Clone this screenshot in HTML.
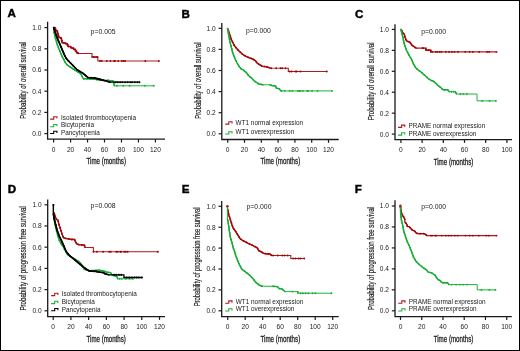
<!DOCTYPE html><html><head><meta charset="utf-8"><style>html,body{margin:0;padding:0;background:#fff}svg{display:block;filter:blur(0.3px)}text{font-family:"Liberation Sans",sans-serif}</style></head><body>
<svg width="520" height="351" viewBox="0 0 520 351">
<rect x="0" y="0" width="520" height="351" fill="#fff"/>
<path d="M47.6,21.7 V139.2 H165" fill="none" stroke="#1a1a1a" stroke-width="1.3"/>
<line x1="44.4" y1="133.6" x2="47.6" y2="133.6" stroke="#1a1a1a" stroke-width="1.2"/>
<text x="41.5" y="136" font-size="6.6" text-anchor="end" fill="#1a1a1a">0.0</text>
<line x1="44.4" y1="112.4" x2="47.6" y2="112.4" stroke="#1a1a1a" stroke-width="1.2"/>
<text x="41.5" y="114.8" font-size="6.6" text-anchor="end" fill="#1a1a1a">0.2</text>
<line x1="44.4" y1="91.2" x2="47.6" y2="91.2" stroke="#1a1a1a" stroke-width="1.2"/>
<text x="41.5" y="93.6" font-size="6.6" text-anchor="end" fill="#1a1a1a">0.4</text>
<line x1="44.4" y1="70" x2="47.6" y2="70" stroke="#1a1a1a" stroke-width="1.2"/>
<text x="41.5" y="72.4" font-size="6.6" text-anchor="end" fill="#1a1a1a">0.6</text>
<line x1="44.4" y1="48.8" x2="47.6" y2="48.8" stroke="#1a1a1a" stroke-width="1.2"/>
<text x="41.5" y="51.2" font-size="6.6" text-anchor="end" fill="#1a1a1a">0.8</text>
<line x1="44.4" y1="27.6" x2="47.6" y2="27.6" stroke="#1a1a1a" stroke-width="1.2"/>
<text x="41.5" y="30" font-size="6.6" text-anchor="end" fill="#1a1a1a">1.0</text>
<line x1="53.6" y1="139.2" x2="53.6" y2="142.5" stroke="#1a1a1a" stroke-width="1.2"/>
<text x="53.6" y="151.7" font-size="6.6" text-anchor="middle" fill="#1a1a1a">0</text>
<line x1="70.57" y1="139.2" x2="70.57" y2="142.5" stroke="#1a1a1a" stroke-width="1.2"/>
<text x="70.57" y="151.7" font-size="6.6" text-anchor="middle" fill="#1a1a1a">20</text>
<line x1="87.54" y1="139.2" x2="87.54" y2="142.5" stroke="#1a1a1a" stroke-width="1.2"/>
<text x="87.54" y="151.7" font-size="6.6" text-anchor="middle" fill="#1a1a1a">40</text>
<line x1="104.51" y1="139.2" x2="104.51" y2="142.5" stroke="#1a1a1a" stroke-width="1.2"/>
<text x="104.51" y="151.7" font-size="6.6" text-anchor="middle" fill="#1a1a1a">60</text>
<line x1="121.48" y1="139.2" x2="121.48" y2="142.5" stroke="#1a1a1a" stroke-width="1.2"/>
<text x="121.48" y="151.7" font-size="6.6" text-anchor="middle" fill="#1a1a1a">80</text>
<line x1="138.45" y1="139.2" x2="138.45" y2="142.5" stroke="#1a1a1a" stroke-width="1.2"/>
<text x="138.45" y="151.7" font-size="6.6" text-anchor="middle" fill="#1a1a1a">100</text>
<line x1="155.42" y1="139.2" x2="155.42" y2="142.5" stroke="#1a1a1a" stroke-width="1.2"/>
<text x="155.42" y="151.7" font-size="6.6" text-anchor="middle" fill="#1a1a1a">120</text>
<text x="7.4" y="17.3" font-size="11.6" font-weight="bold" fill="#000" stroke="#000" stroke-width="0.4">A</text>
<text x="86.5" y="163.9" font-size="8.6" fill="#222" stroke="#222" stroke-width="0.3" textLength="39.5" lengthAdjust="spacingAndGlyphs">Time (months)</text>
<text transform="translate(26.1,80.4) rotate(-90)" x="0" y="0" font-size="8.4" text-anchor="middle" fill="#222" stroke="#222" stroke-width="0.18" textLength="76.6" lengthAdjust="spacingAndGlyphs">Probability of overall survival</text>
<text x="90.6" y="33.6" font-size="6.5" fill="#222" textLength="25" lengthAdjust="spacingAndGlyphs">p=0.005</text>
<path d="M50.1,119.1 H53.7 V116.8 H56.9 V118.6" fill="none" stroke="#B01A1E" stroke-width="1.1"/>
<text x="61" y="119.5" font-size="6.4" fill="#1a1a1a">Isolated thrombocytopenia</text>
<path d="M50.1,126.8 H53.7 V124.5 H56.9 V126.3" fill="none" stroke="#1EB23B" stroke-width="1.1"/>
<text x="61" y="127.2" font-size="6.4" fill="#1a1a1a">Bicytopenia</text>
<path d="M50.1,133.5 H53.7 V131.2 H56.9 V133" fill="none" stroke="#000000" stroke-width="1.1"/>
<text x="61" y="134.9" font-size="6.4" fill="#1a1a1a">Pancytopenia</text>
<path d="M53.5,27.7 L54.3,33.4 L55.4,38 L56.4,41.4 L57.1,44 L58.8,48.6 L60.6,53.1 L62.8,57.7 L65.1,62.2 L67.4,65.1 L70.8,67.4 L74.8,70.2 L77.1,71.4 L80.5,73.6 L82.2,76.5 L83.4,78.8 L88.5,78.8 L95,79.3 L101,80.2 L107.3,80.2 L110,80.6 L113.8,81.2 L114.2,85.8 L153.8,85.8" fill="none" stroke="#1EB23B" stroke-width="1.0" stroke-linejoin="miter" stroke-miterlimit="2"/>
<path d="M53.5,27.7 L54.3,33.4 L55.4,38 L56.4,41.4 L57.1,44 L58.8,48.6 L60.6,53.1 L62.8,57.7 L65.1,62.2 L67.4,65.1 L70.8,67.4 L74.8,70.2 L77.1,71.4 L80.5,73.6 L82.2,76.5 L83.4,78.8 L88.5,78.8 L95,79.3 L101,80.2" fill="none" stroke="#19AC36" stroke-width="1.45" stroke-linejoin="round" stroke-linecap="round"/>
<path d="M107.3,80.2 L110,80.6 L113.8,81.2 L114.2,85.8" fill="none" stroke="#19AC36" stroke-width="1.45" stroke-linejoin="round" stroke-linecap="round"/>
<circle cx="53.72" cy="29.28" r="0.85" fill="#17AE36"/>
<circle cx="54.17" cy="32.45" r="0.85" fill="#17AE36"/>
<circle cx="54.82" cy="35.58" r="0.85" fill="#17AE36"/>
<circle cx="55.6" cy="38.69" r="0.85" fill="#17AE36"/>
<circle cx="56.5" cy="41.76" r="0.85" fill="#17AE36"/>
<circle cx="57.4" cy="44.82" r="0.85" fill="#17AE36"/>
<circle cx="58.51" cy="47.82" r="0.85" fill="#17AE36"/>
<circle cx="59.68" cy="50.8" r="0.85" fill="#17AE36"/>
<circle cx="60.91" cy="53.76" r="0.85" fill="#17AE36"/>
<circle cx="62.29" cy="56.64" r="0.85" fill="#17AE36"/>
<circle cx="63.72" cy="59.51" r="0.85" fill="#17AE36"/>
<circle cx="65.21" cy="62.34" r="0.85" fill="#17AE36"/>
<circle cx="67.2" cy="64.84" r="0.85" fill="#17AE36"/>
<circle cx="69.78" cy="66.71" r="0.85" fill="#17AE36"/>
<circle cx="72.41" cy="68.53" r="0.85" fill="#17AE36"/>
<circle cx="75.05" cy="70.33" r="0.85" fill="#17AE36"/>
<circle cx="77.85" cy="71.88" r="0.85" fill="#17AE36"/>
<circle cx="80.52" cy="73.64" r="0.85" fill="#17AE36"/>
<circle cx="82.14" cy="76.4" r="0.85" fill="#17AE36"/>
<circle cx="83.89" cy="78.8" r="0.85" fill="#17AE36"/>
<circle cx="87.09" cy="78.8" r="0.85" fill="#17AE36"/>
<circle cx="90.28" cy="78.94" r="0.85" fill="#17AE36"/>
<circle cx="93.47" cy="79.18" r="0.85" fill="#17AE36"/>
<circle cx="96.65" cy="79.55" r="0.85" fill="#17AE36"/>
<circle cx="99.81" cy="80.02" r="0.85" fill="#17AE36"/>
<circle cx="108.88" cy="80.43" r="0.85" fill="#17AE36"/>
<circle cx="112.05" cy="80.92" r="0.85" fill="#17AE36"/>
<circle cx="113.92" cy="82.62" r="0.85" fill="#17AE36"/>
<path d="M54.2,27.5 L55,27.5 L55,28.5 L55.6,28.5 L55.6,30.5 L57,30.5 L57,31.2 L57.5,31.2 L57.5,33.5 L58.2,33.5 L58.2,35.7 L58.7,35.7 L58.7,37.5 L60.5,37.5 L60.5,38.2 L61.5,38.2 L61.5,40.3 L62,40.3 L62,42.6 L64,42.6 L64,43.2 L65.7,43.2 L65.7,43.8 L67.3,43.8 L67.3,44.8 L68,44.8 L68,46.5 L70.8,46.5 L70.8,47.6 L72,47.6 L72,48.2 L73.6,48.2 L73.6,49.4 L75.4,49.4 L75.4,51 L76.5,51 L76.5,52.8 L78,52.8 L78,53.5 L92,53.5 L92,57 L97.8,57 L97.8,61 L159,61" fill="none" stroke="#B01A1E" stroke-width="1.1" stroke-linejoin="miter" stroke-miterlimit="2"/>
<path d="M54.2,27.5 L55,27.5 L55,28.5 L55.6,28.5 L55.6,30.5 L57,30.5 L57,31.2 L57.5,31.2 L57.5,33.5 L58.2,33.5 L58.2,35.7 L58.7,35.7 L58.7,37.5 L60.5,37.5 L60.5,38.2 L61.5,38.2 L61.5,40.3 L62,40.3 L62,42.6 L64,42.6 L64,43.2 L65.7,43.2 L65.7,43.8 L67.3,43.8 L67.3,44.8 L68,44.8 L68,46.5 L70.8,46.5 L70.8,47.6 L72,47.6 L72,48.2 L73.6,48.2 L73.6,49.4 L75.4,49.4 L75.4,51 L76.5,51 L76.5,52.8 L78,52.8 L78,53.5" fill="none" stroke="#A80E12" stroke-width="1.45" stroke-linejoin="round" stroke-linecap="round"/>
<path d="M92,57 L97.8,57" fill="none" stroke="#A80E12" stroke-width="1.45" stroke-linejoin="round" stroke-linecap="round"/>
<circle cx="55" cy="28.3" r="0.85" fill="#A00000"/>
<circle cx="56" cy="30.5" r="0.85" fill="#A00000"/>
<circle cx="57.5" cy="32.2" r="0.85" fill="#A00000"/>
<circle cx="58.2" cy="34.7" r="0.85" fill="#A00000"/>
<circle cx="58.7" cy="37.4" r="0.85" fill="#A00000"/>
<circle cx="61.1" cy="38.2" r="0.85" fill="#A00000"/>
<circle cx="62" cy="40.5" r="0.85" fill="#A00000"/>
<circle cx="63.1" cy="42.6" r="0.85" fill="#A00000"/>
<circle cx="65.7" cy="43.2" r="0.85" fill="#A00000"/>
<circle cx="67.3" cy="44.8" r="0.85" fill="#A00000"/>
<circle cx="68.8" cy="46.5" r="0.85" fill="#A00000"/>
<circle cx="70.9" cy="47.6" r="0.85" fill="#A00000"/>
<circle cx="73.5" cy="48.2" r="0.85" fill="#A00000"/>
<circle cx="75.4" cy="49.5" r="0.85" fill="#A00000"/>
<circle cx="76.5" cy="51.6" r="0.85" fill="#A00000"/>
<circle cx="78" cy="53.3" r="0.85" fill="#A00000"/>
<circle cx="93.6" cy="57" r="0.85" fill="#A00000"/>
<circle cx="96.8" cy="57" r="0.85" fill="#A00000"/>
<path d="M53.7,27.5 L54.8,31.1 L56,34.5 L57.7,39.1 L59.4,43.1 L61.1,47.1 L62.8,51.1 L64.5,55.2 L66.5,58.8 L69.5,62 L72,64.5 L77.1,69.7 L83.4,73.6 L87.9,77.5 L94.2,77.9 L101,79.6 L106.2,81 L108,81.6 L109.9,82.2 L139.8,82.2" fill="none" stroke="#000000" stroke-width="1.3" stroke-linejoin="miter" stroke-miterlimit="2"/>
<path d="M53.7,27.5 L54.8,31.1 L56,34.5 L57.7,39.1 L59.4,43.1 L61.1,47.1 L62.8,51.1 L64.5,55.2 L66.5,58.8 L69.5,62 L72,64.5 L77.1,69.7 L83.4,73.6 L87.9,77.5 L94.2,77.9 L101,79.6 L106.2,81 L108,81.6 L109.9,82.2" fill="none" stroke="#000000" stroke-width="1.6" stroke-linejoin="round" stroke-linecap="round"/>
<circle cx="54.17" cy="29.03" r="0.85" fill="#000"/>
<circle cx="55.14" cy="32.08" r="0.85" fill="#000"/>
<circle cx="56.22" cy="35.09" r="0.85" fill="#000"/>
<circle cx="57.33" cy="38.09" r="0.85" fill="#000"/>
<circle cx="58.53" cy="41.06" r="0.85" fill="#000"/>
<circle cx="59.78" cy="44" r="0.85" fill="#000"/>
<circle cx="61.03" cy="46.95" r="0.85" fill="#000"/>
<circle cx="62.29" cy="49.89" r="0.85" fill="#000"/>
<circle cx="63.52" cy="52.84" r="0.85" fill="#000"/>
<circle cx="64.82" cy="55.77" r="0.85" fill="#000"/>
<circle cx="66.37" cy="58.56" r="0.85" fill="#000"/>
<circle cx="68.5" cy="60.94" r="0.85" fill="#000"/>
<circle cx="70.73" cy="63.23" r="0.85" fill="#000"/>
<circle cx="72.99" cy="65.51" r="0.85" fill="#000"/>
<circle cx="75.23" cy="67.79" r="0.85" fill="#000"/>
<circle cx="77.55" cy="69.98" r="0.85" fill="#000"/>
<circle cx="80.27" cy="71.66" r="0.85" fill="#000"/>
<circle cx="82.99" cy="73.35" r="0.85" fill="#000"/>
<circle cx="85.45" cy="75.38" r="0.85" fill="#000"/>
<circle cx="87.87" cy="77.47" r="0.85" fill="#000"/>
<circle cx="91.05" cy="77.7" r="0.85" fill="#000"/>
<circle cx="94.25" cy="77.91" r="0.85" fill="#000"/>
<circle cx="97.35" cy="78.69" r="0.85" fill="#000"/>
<circle cx="100.46" cy="79.46" r="0.85" fill="#000"/>
<circle cx="103.55" cy="80.29" r="0.85" fill="#000"/>
<circle cx="106.63" cy="81.14" r="0.85" fill="#000"/>
<circle cx="109.67" cy="82.13" r="0.85" fill="#000"/>
<circle cx="99.9" cy="61" r="0.95" fill="#A00000"/>
<circle cx="101.6" cy="61" r="0.95" fill="#A00000"/>
<circle cx="106.8" cy="61" r="0.95" fill="#A00000"/>
<circle cx="110.4" cy="61" r="0.95" fill="#A00000"/>
<circle cx="114" cy="61" r="0.95" fill="#A00000"/>
<circle cx="115" cy="61" r="0.95" fill="#A00000"/>
<circle cx="118.2" cy="61" r="0.95" fill="#A00000"/>
<circle cx="121.8" cy="61" r="0.95" fill="#A00000"/>
<circle cx="123.5" cy="61" r="0.95" fill="#A00000"/>
<circle cx="125.1" cy="61" r="0.95" fill="#A00000"/>
<circle cx="145.3" cy="61" r="0.95" fill="#A00000"/>
<circle cx="158.9" cy="61" r="0.95" fill="#A00000"/>
<circle cx="116.8" cy="85.8" r="0.95" fill="#17AE36"/>
<circle cx="123.3" cy="85.8" r="0.95" fill="#17AE36"/>
<circle cx="129.7" cy="85.8" r="0.95" fill="#17AE36"/>
<circle cx="144.7" cy="85.8" r="0.95" fill="#17AE36"/>
<circle cx="153.8" cy="85.8" r="0.95" fill="#17AE36"/>
<circle cx="115.8" cy="82.2" r="0.95" fill="#000"/>
<circle cx="117.8" cy="82.2" r="0.95" fill="#000"/>
<circle cx="120.1" cy="82.2" r="0.95" fill="#000"/>
<circle cx="122.3" cy="82.2" r="0.95" fill="#000"/>
<circle cx="125" cy="82.2" r="0.95" fill="#000"/>
<circle cx="127.6" cy="82.2" r="0.95" fill="#000"/>
<circle cx="130.2" cy="82.2" r="0.95" fill="#000"/>
<circle cx="132.1" cy="82.2" r="0.95" fill="#000"/>
<circle cx="134.8" cy="82.2" r="0.95" fill="#000"/>
<circle cx="137.4" cy="82.2" r="0.95" fill="#000"/>
<circle cx="139.5" cy="82.2" r="0.95" fill="#000"/>
<path d="M221.8,23 V139.5 H338.7" fill="none" stroke="#1a1a1a" stroke-width="1.3"/>
<line x1="218.6" y1="133.8" x2="221.8" y2="133.8" stroke="#1a1a1a" stroke-width="1.2"/>
<text x="215.7" y="136.2" font-size="6.6" text-anchor="end" fill="#1a1a1a">0.0</text>
<line x1="218.6" y1="112.7" x2="221.8" y2="112.7" stroke="#1a1a1a" stroke-width="1.2"/>
<text x="215.7" y="115.1" font-size="6.6" text-anchor="end" fill="#1a1a1a">0.2</text>
<line x1="218.6" y1="91.6" x2="221.8" y2="91.6" stroke="#1a1a1a" stroke-width="1.2"/>
<text x="215.7" y="94" font-size="6.6" text-anchor="end" fill="#1a1a1a">0.4</text>
<line x1="218.6" y1="70.5" x2="221.8" y2="70.5" stroke="#1a1a1a" stroke-width="1.2"/>
<text x="215.7" y="72.9" font-size="6.6" text-anchor="end" fill="#1a1a1a">0.6</text>
<line x1="218.6" y1="49.4" x2="221.8" y2="49.4" stroke="#1a1a1a" stroke-width="1.2"/>
<text x="215.7" y="51.8" font-size="6.6" text-anchor="end" fill="#1a1a1a">0.8</text>
<line x1="218.6" y1="28.3" x2="221.8" y2="28.3" stroke="#1a1a1a" stroke-width="1.2"/>
<text x="215.7" y="30.7" font-size="6.6" text-anchor="end" fill="#1a1a1a">1.0</text>
<line x1="227.7" y1="139.5" x2="227.7" y2="142.8" stroke="#1a1a1a" stroke-width="1.2"/>
<text x="227.7" y="152" font-size="6.6" text-anchor="middle" fill="#1a1a1a">0</text>
<line x1="244.5" y1="139.5" x2="244.5" y2="142.8" stroke="#1a1a1a" stroke-width="1.2"/>
<text x="244.5" y="152" font-size="6.6" text-anchor="middle" fill="#1a1a1a">20</text>
<line x1="261.3" y1="139.5" x2="261.3" y2="142.8" stroke="#1a1a1a" stroke-width="1.2"/>
<text x="261.3" y="152" font-size="6.6" text-anchor="middle" fill="#1a1a1a">40</text>
<line x1="278.1" y1="139.5" x2="278.1" y2="142.8" stroke="#1a1a1a" stroke-width="1.2"/>
<text x="278.1" y="152" font-size="6.6" text-anchor="middle" fill="#1a1a1a">60</text>
<line x1="294.9" y1="139.5" x2="294.9" y2="142.8" stroke="#1a1a1a" stroke-width="1.2"/>
<text x="294.9" y="152" font-size="6.6" text-anchor="middle" fill="#1a1a1a">80</text>
<line x1="311.7" y1="139.5" x2="311.7" y2="142.8" stroke="#1a1a1a" stroke-width="1.2"/>
<text x="311.7" y="152" font-size="6.6" text-anchor="middle" fill="#1a1a1a">100</text>
<line x1="328.5" y1="139.5" x2="328.5" y2="142.8" stroke="#1a1a1a" stroke-width="1.2"/>
<text x="328.5" y="152" font-size="6.6" text-anchor="middle" fill="#1a1a1a">120</text>
<text x="181.4" y="18.2" font-size="11.6" font-weight="bold" fill="#000" stroke="#000" stroke-width="0.4">B</text>
<text x="260.5" y="164.4" font-size="8.6" fill="#222" stroke="#222" stroke-width="0.3" textLength="39.7" lengthAdjust="spacingAndGlyphs">Time (months)</text>
<text transform="translate(200.5,80.6) rotate(-90)" x="0" y="0" font-size="8.4" text-anchor="middle" fill="#222" stroke="#222" stroke-width="0.18" textLength="76.2" lengthAdjust="spacingAndGlyphs">Probability of overall survival</text>
<text x="245.9" y="33.2" font-size="6.5" fill="#222" textLength="25" lengthAdjust="spacingAndGlyphs">p=0.000</text>
<path d="M225.2,124.1 H228.8 V121.8 H232 V123.6" fill="none" stroke="#B01A1E" stroke-width="1.1"/>
<text x="235.6" y="124.5" font-size="6.4" fill="#1a1a1a">WT1 normal expression</text>
<path d="M225.2,134 H228.8 V131.7 H232 V133.5" fill="none" stroke="#1EB23B" stroke-width="1.1"/>
<text x="235.6" y="134.4" font-size="6.4" fill="#1a1a1a">WT1 overexpression</text>
<path d="M227.5,28.6 L228.2,29.5 L229,32.7 L230.4,36.4 L231.2,39.3 L232.7,42.3 L234.1,45.3 L236.4,48.2 L239.3,51.2 L242.3,54.1 L246,56.4 L249.7,57.9 L253.4,59.3 L255.6,60.8 L257.1,63 L259.3,64.5 L262.2,66.2 L266.4,66.8 L269.9,68 L288.3,68.2 L288.3,71.5 L327,71.5" fill="none" stroke="#B01A1E" stroke-width="1.1" stroke-linejoin="miter" stroke-miterlimit="2"/>
<path d="M227.5,28.6 L228.2,29.5 L229,32.7 L230.4,36.4 L231.2,39.3 L232.7,42.3 L234.1,45.3 L236.4,48.2 L239.3,51.2 L242.3,54.1 L246,56.4 L249.7,57.9 L253.4,59.3 L255.6,60.8 L257.1,63 L259.3,64.5 L262.2,66.2 L266.4,66.8 L269.9,68" fill="none" stroke="#A80E12" stroke-width="1.45" stroke-linejoin="round" stroke-linecap="round"/>
<circle cx="228.31" cy="29.95" r="0.85" fill="#A00000"/>
<circle cx="229.13" cy="33.04" r="0.85" fill="#A00000"/>
<circle cx="230.26" cy="36.03" r="0.85" fill="#A00000"/>
<circle cx="231.15" cy="39.1" r="0.85" fill="#A00000"/>
<circle cx="232.54" cy="41.98" r="0.85" fill="#A00000"/>
<circle cx="233.9" cy="44.88" r="0.85" fill="#A00000"/>
<circle cx="235.8" cy="47.44" r="0.85" fill="#A00000"/>
<circle cx="237.95" cy="49.8" r="0.85" fill="#A00000"/>
<circle cx="240.2" cy="52.07" r="0.85" fill="#A00000"/>
<circle cx="242.54" cy="54.25" r="0.85" fill="#A00000"/>
<circle cx="245.26" cy="55.94" r="0.85" fill="#A00000"/>
<circle cx="248.16" cy="57.28" r="0.85" fill="#A00000"/>
<circle cx="251.14" cy="58.44" r="0.85" fill="#A00000"/>
<circle cx="254.05" cy="59.74" r="0.85" fill="#A00000"/>
<circle cx="256.34" cy="61.89" r="0.85" fill="#A00000"/>
<circle cx="258.63" cy="64.05" r="0.85" fill="#A00000"/>
<circle cx="261.36" cy="65.71" r="0.85" fill="#A00000"/>
<circle cx="264.41" cy="66.52" r="0.85" fill="#A00000"/>
<circle cx="267.52" cy="67.19" r="0.85" fill="#A00000"/>
<path d="M227.5,28.6 L228.7,34.9 L229.7,40.8 L231.2,46.7 L232.7,52.7 L234.9,58.6 L237.1,63 L239.3,66.7 L240.3,67.7 L241.4,69.1 L242.3,69.4 L243.4,70 L244.5,71.1 L246,72.3 L247.1,73.4 L248.2,75.1 L249.7,76.8 L251.4,77.7 L252.5,79.1 L254.2,80.8 L255.7,81.9 L258.8,84 L263,84.8 L269.9,84.8 L272,85.6 L275.6,86 L276.5,88.2 L279.2,88.6 L280.5,90.5 L281.4,90.9 L332.3,90.9" fill="none" stroke="#1EB23B" stroke-width="1.0" stroke-linejoin="miter" stroke-miterlimit="2"/>
<path d="M227.5,28.6 L228.7,34.9 L229.7,40.8 L231.2,46.7 L232.7,52.7 L234.9,58.6 L237.1,63 L239.3,66.7 L240.3,67.7 L241.4,69.1 L242.3,69.4 L243.4,70 L244.5,71.1 L246,72.3 L247.1,73.4 L248.2,75.1 L249.7,76.8 L251.4,77.7 L252.5,79.1 L254.2,80.8 L255.7,81.9 L258.8,84 L263,84.8" fill="none" stroke="#19AC36" stroke-width="1.45" stroke-linejoin="round" stroke-linecap="round"/>
<path d="M269.9,84.8 L272,85.6 L275.6,86 L276.5,88.2 L279.2,88.6 L280.5,90.5 L281.4,90.9" fill="none" stroke="#19AC36" stroke-width="1.45" stroke-linejoin="round" stroke-linecap="round"/>
<circle cx="227.8" cy="30.17" r="0.85" fill="#17AE36"/>
<circle cx="228.4" cy="33.32" r="0.85" fill="#17AE36"/>
<circle cx="228.97" cy="36.46" r="0.85" fill="#17AE36"/>
<circle cx="229.5" cy="39.62" r="0.85" fill="#17AE36"/>
<circle cx="230.19" cy="42.74" r="0.85" fill="#17AE36"/>
<circle cx="230.98" cy="45.84" r="0.85" fill="#17AE36"/>
<circle cx="231.76" cy="48.95" r="0.85" fill="#17AE36"/>
<circle cx="232.54" cy="52.05" r="0.85" fill="#17AE36"/>
<circle cx="233.58" cy="55.07" r="0.85" fill="#17AE36"/>
<circle cx="234.7" cy="58.07" r="0.85" fill="#17AE36"/>
<circle cx="236.08" cy="60.96" r="0.85" fill="#17AE36"/>
<circle cx="237.57" cy="63.79" r="0.85" fill="#17AE36"/>
<circle cx="239.2" cy="66.54" r="0.85" fill="#17AE36"/>
<circle cx="241.29" cy="68.95" r="0.85" fill="#17AE36"/>
<circle cx="243.97" cy="70.57" r="0.85" fill="#17AE36"/>
<circle cx="246.38" cy="72.68" r="0.85" fill="#17AE36"/>
<circle cx="248.3" cy="75.22" r="0.85" fill="#17AE36"/>
<circle cx="250.66" cy="77.31" r="0.85" fill="#17AE36"/>
<circle cx="252.91" cy="79.51" r="0.85" fill="#17AE36"/>
<circle cx="255.31" cy="81.62" r="0.85" fill="#17AE36"/>
<circle cx="257.95" cy="83.43" r="0.85" fill="#17AE36"/>
<circle cx="260.94" cy="84.41" r="0.85" fill="#17AE36"/>
<circle cx="271.4" cy="85.37" r="0.85" fill="#17AE36"/>
<circle cx="274.54" cy="85.88" r="0.85" fill="#17AE36"/>
<circle cx="276.41" cy="87.97" r="0.85" fill="#17AE36"/>
<circle cx="279.33" cy="88.79" r="0.85" fill="#17AE36"/>
<circle cx="271.3" cy="68.2" r="0.95" fill="#A00000"/>
<circle cx="276.2" cy="68.2" r="0.95" fill="#A00000"/>
<circle cx="280.5" cy="68.2" r="0.95" fill="#A00000"/>
<circle cx="282.1" cy="68.2" r="0.95" fill="#A00000"/>
<circle cx="285.4" cy="68.2" r="0.95" fill="#A00000"/>
<circle cx="289.6" cy="71.5" r="0.95" fill="#A00000"/>
<circle cx="291.6" cy="71.5" r="0.95" fill="#A00000"/>
<circle cx="295.5" cy="71.5" r="0.95" fill="#A00000"/>
<circle cx="296.8" cy="71.5" r="0.95" fill="#A00000"/>
<circle cx="300.4" cy="71.5" r="0.95" fill="#A00000"/>
<circle cx="326.8" cy="71.5" r="0.95" fill="#A00000"/>
<circle cx="281.4" cy="90.9" r="0.95" fill="#17AE36"/>
<circle cx="284.7" cy="90.9" r="0.95" fill="#17AE36"/>
<circle cx="289.6" cy="90.9" r="0.95" fill="#17AE36"/>
<circle cx="292.5" cy="90.9" r="0.95" fill="#17AE36"/>
<circle cx="297.8" cy="90.9" r="0.95" fill="#17AE36"/>
<circle cx="299.1" cy="90.9" r="0.95" fill="#17AE36"/>
<circle cx="300.4" cy="90.9" r="0.95" fill="#17AE36"/>
<circle cx="302.9" cy="90.9" r="0.95" fill="#17AE36"/>
<circle cx="307.2" cy="90.9" r="0.95" fill="#17AE36"/>
<circle cx="308.5" cy="90.9" r="0.95" fill="#17AE36"/>
<circle cx="312.1" cy="90.9" r="0.95" fill="#17AE36"/>
<circle cx="317.6" cy="90.9" r="0.95" fill="#17AE36"/>
<circle cx="332" cy="90.9" r="0.95" fill="#17AE36"/>
<path d="M395,24.2 V139.6 H512" fill="none" stroke="#1a1a1a" stroke-width="1.3"/>
<line x1="391.8" y1="134.1" x2="395" y2="134.1" stroke="#1a1a1a" stroke-width="1.2"/>
<text x="388.9" y="136.5" font-size="6.6" text-anchor="end" fill="#1a1a1a">0.0</text>
<line x1="391.8" y1="113.16" x2="395" y2="113.16" stroke="#1a1a1a" stroke-width="1.2"/>
<text x="388.9" y="115.56" font-size="6.6" text-anchor="end" fill="#1a1a1a">0.2</text>
<line x1="391.8" y1="92.22" x2="395" y2="92.22" stroke="#1a1a1a" stroke-width="1.2"/>
<text x="388.9" y="94.62" font-size="6.6" text-anchor="end" fill="#1a1a1a">0.4</text>
<line x1="391.8" y1="71.28" x2="395" y2="71.28" stroke="#1a1a1a" stroke-width="1.2"/>
<text x="388.9" y="73.68" font-size="6.6" text-anchor="end" fill="#1a1a1a">0.6</text>
<line x1="391.8" y1="50.34" x2="395" y2="50.34" stroke="#1a1a1a" stroke-width="1.2"/>
<text x="388.9" y="52.74" font-size="6.6" text-anchor="end" fill="#1a1a1a">0.8</text>
<line x1="391.8" y1="29.4" x2="395" y2="29.4" stroke="#1a1a1a" stroke-width="1.2"/>
<text x="388.9" y="31.8" font-size="6.6" text-anchor="end" fill="#1a1a1a">1.0</text>
<line x1="400.9" y1="139.6" x2="400.9" y2="142.9" stroke="#1a1a1a" stroke-width="1.2"/>
<text x="400.9" y="152.1" font-size="6.6" text-anchor="middle" fill="#1a1a1a">0</text>
<line x1="422.1" y1="139.6" x2="422.1" y2="142.9" stroke="#1a1a1a" stroke-width="1.2"/>
<text x="422.1" y="152.1" font-size="6.6" text-anchor="middle" fill="#1a1a1a">20</text>
<line x1="443.3" y1="139.6" x2="443.3" y2="142.9" stroke="#1a1a1a" stroke-width="1.2"/>
<text x="443.3" y="152.1" font-size="6.6" text-anchor="middle" fill="#1a1a1a">40</text>
<line x1="464.5" y1="139.6" x2="464.5" y2="142.9" stroke="#1a1a1a" stroke-width="1.2"/>
<text x="464.5" y="152.1" font-size="6.6" text-anchor="middle" fill="#1a1a1a">60</text>
<line x1="485.7" y1="139.6" x2="485.7" y2="142.9" stroke="#1a1a1a" stroke-width="1.2"/>
<text x="485.7" y="152.1" font-size="6.6" text-anchor="middle" fill="#1a1a1a">80</text>
<line x1="506.9" y1="139.6" x2="506.9" y2="142.9" stroke="#1a1a1a" stroke-width="1.2"/>
<text x="506.9" y="152.1" font-size="6.6" text-anchor="middle" fill="#1a1a1a">100</text>
<text x="354.9" y="17.7" font-size="11.6" font-weight="bold" fill="#000" stroke="#000" stroke-width="0.4">C</text>
<text x="433.7" y="164.8" font-size="8.6" fill="#222" stroke="#222" stroke-width="0.3" textLength="39.6" lengthAdjust="spacingAndGlyphs">Time (months)</text>
<text transform="translate(373.7,81.4) rotate(-90)" x="0" y="0" font-size="8.4" text-anchor="middle" fill="#222" stroke="#222" stroke-width="0.18" textLength="77.8" lengthAdjust="spacingAndGlyphs">Probability of overall survival</text>
<text x="421.2" y="33.9" font-size="6.5" fill="#222" textLength="25" lengthAdjust="spacingAndGlyphs">p=0.000</text>
<path d="M398,127.4 H401.6 V125.1 H404.8 V126.9" fill="none" stroke="#B01A1E" stroke-width="1.1"/>
<text x="408.5" y="127.8" font-size="6.4" fill="#1a1a1a">PRAME normal expression</text>
<path d="M398,135.1 H401.6 V132.8 H404.8 V134.6" fill="none" stroke="#1EB23B" stroke-width="1.1"/>
<text x="408.5" y="135.5" font-size="6.4" fill="#1a1a1a">PRAME overexpression</text>
<path d="M401,29.4 L402.3,31.8 L403.1,33.1 L404.4,34.4 L404.8,36.5 L405.7,39.1 L406.5,40.8 L408.3,41.7 L409.5,41.7 L410.8,43.4 L411.7,45.1 L413,45.9 L414.7,47.2 L415.5,47.8 L416.4,48.1 L425.9,48.1 L425.9,50.1 L430.8,50.1 L430.8,51.9 L496.5,51.9" fill="none" stroke="#B01A1E" stroke-width="1.1" stroke-linejoin="miter" stroke-miterlimit="2"/>
<path d="M401,29.4 L402.3,31.8 L403.1,33.1 L404.4,34.4 L404.8,36.5 L405.7,39.1 L406.5,40.8 L408.3,41.7 L409.5,41.7 L410.8,43.4 L411.7,45.1 L413,45.9 L414.7,47.2 L415.5,47.8 L416.4,48.1" fill="none" stroke="#A80E12" stroke-width="1.45" stroke-linejoin="round" stroke-linecap="round"/>
<path d="M425.9,48.1 L425.9,50.1 L430.8,50.1 L430.8,51.9" fill="none" stroke="#A80E12" stroke-width="1.45" stroke-linejoin="round" stroke-linecap="round"/>
<circle cx="401.76" cy="30.81" r="0.85" fill="#A00000"/>
<circle cx="403.48" cy="33.48" r="0.85" fill="#A00000"/>
<circle cx="404.76" cy="36.27" r="0.85" fill="#A00000"/>
<circle cx="405.79" cy="39.3" r="0.85" fill="#A00000"/>
<circle cx="407.88" cy="41.49" r="0.85" fill="#A00000"/>
<circle cx="410.43" cy="42.91" r="0.85" fill="#A00000"/>
<circle cx="412.26" cy="45.45" r="0.85" fill="#A00000"/>
<circle cx="414.86" cy="47.32" r="0.85" fill="#A00000"/>
<circle cx="425.9" cy="49.7" r="0.85" fill="#A00000"/>
<circle cx="428.7" cy="50.1" r="0.85" fill="#A00000"/>
<circle cx="430.8" cy="51.2" r="0.85" fill="#A00000"/>
<path d="M401,29.4 L401.8,33.1 L402.7,36.5 L403.6,40.8 L404.4,44.2 L405.3,46.8 L406.5,50.2 L407.8,52.8 L408.8,54.6 L410.1,57.1 L411.8,59.7 L413.1,63.1 L414.4,65.7 L416.1,68.2 L418.7,70.4 L421.7,72.5 L423.4,74.2 L425.5,75.9 L428.1,78.5 L430.6,80.2 L433,80.9 L435.5,83.1 L438.1,85.6 L440.6,87.4 L443.1,89.8 L447.7,89.8 L449.2,91.7 L455.4,91.7 L456.5,94 L477,94 L477,100.9 L495.9,100.9" fill="none" stroke="#1EB23B" stroke-width="1.0" stroke-linejoin="miter" stroke-miterlimit="2"/>
<path d="M401,29.4 L401.8,33.1 L402.7,36.5 L403.6,40.8 L404.4,44.2 L405.3,46.8 L406.5,50.2 L407.8,52.8 L408.8,54.6 L410.1,57.1 L411.8,59.7 L413.1,63.1 L414.4,65.7 L416.1,68.2 L418.7,70.4 L421.7,72.5 L423.4,74.2 L425.5,75.9 L428.1,78.5 L430.6,80.2 L433,80.9 L435.5,83.1 L438.1,85.6 L440.6,87.4 L443.1,89.8 L447.7,89.8 L449.2,91.7" fill="none" stroke="#19AC36" stroke-width="1.45" stroke-linejoin="round" stroke-linecap="round"/>
<path d="M455.4,91.7 L456.5,94" fill="none" stroke="#19AC36" stroke-width="1.45" stroke-linejoin="round" stroke-linecap="round"/>
<circle cx="401.34" cy="30.96" r="0.85" fill="#17AE36"/>
<circle cx="402.06" cy="34.08" r="0.85" fill="#17AE36"/>
<circle cx="402.84" cy="37.18" r="0.85" fill="#17AE36"/>
<circle cx="403.5" cy="40.31" r="0.85" fill="#17AE36"/>
<circle cx="404.22" cy="43.43" r="0.85" fill="#17AE36"/>
<circle cx="405.19" cy="46.48" r="0.85" fill="#17AE36"/>
<circle cx="406.25" cy="49.5" r="0.85" fill="#17AE36"/>
<circle cx="407.6" cy="52.4" r="0.85" fill="#17AE36"/>
<circle cx="409.12" cy="55.21" r="0.85" fill="#17AE36"/>
<circle cx="410.69" cy="58" r="0.85" fill="#17AE36"/>
<circle cx="412.22" cy="60.79" r="0.85" fill="#17AE36"/>
<circle cx="413.42" cy="63.75" r="0.85" fill="#17AE36"/>
<circle cx="414.97" cy="66.54" r="0.85" fill="#17AE36"/>
<circle cx="417.01" cy="68.97" r="0.85" fill="#17AE36"/>
<circle cx="419.51" cy="70.97" r="0.85" fill="#17AE36"/>
<circle cx="422.07" cy="72.87" r="0.85" fill="#17AE36"/>
<circle cx="424.43" cy="75.03" r="0.85" fill="#17AE36"/>
<circle cx="426.79" cy="77.19" r="0.85" fill="#17AE36"/>
<circle cx="429.21" cy="79.26" r="0.85" fill="#17AE36"/>
<circle cx="432.06" cy="80.63" r="0.85" fill="#17AE36"/>
<circle cx="434.67" cy="82.37" r="0.85" fill="#17AE36"/>
<circle cx="437.01" cy="84.55" r="0.85" fill="#17AE36"/>
<circle cx="439.47" cy="86.58" r="0.85" fill="#17AE36"/>
<circle cx="441.9" cy="88.65" r="0.85" fill="#17AE36"/>
<circle cx="444.64" cy="89.8" r="0.85" fill="#17AE36"/>
<circle cx="447.78" cy="89.91" r="0.85" fill="#17AE36"/>
<circle cx="456.09" cy="93.14" r="0.85" fill="#17AE36"/>
<circle cx="422.4" cy="48.1" r="0.95" fill="#A00000"/>
<circle cx="423.6" cy="48.1" r="0.95" fill="#A00000"/>
<circle cx="432.2" cy="51.9" r="0.95" fill="#A00000"/>
<circle cx="435.7" cy="51.9" r="0.95" fill="#A00000"/>
<circle cx="437.4" cy="51.9" r="0.95" fill="#A00000"/>
<circle cx="439.7" cy="51.9" r="0.95" fill="#A00000"/>
<circle cx="441.5" cy="51.9" r="0.95" fill="#A00000"/>
<circle cx="445.8" cy="51.9" r="0.95" fill="#A00000"/>
<circle cx="449" cy="51.9" r="0.95" fill="#A00000"/>
<circle cx="451.8" cy="51.9" r="0.95" fill="#A00000"/>
<circle cx="454.5" cy="51.9" r="0.95" fill="#A00000"/>
<circle cx="458" cy="51.9" r="0.95" fill="#A00000"/>
<circle cx="465.3" cy="51.9" r="0.95" fill="#A00000"/>
<circle cx="469.5" cy="51.9" r="0.95" fill="#A00000"/>
<circle cx="472.8" cy="51.9" r="0.95" fill="#A00000"/>
<circle cx="479.2" cy="51.9" r="0.95" fill="#A00000"/>
<circle cx="487.1" cy="51.9" r="0.95" fill="#A00000"/>
<circle cx="489.2" cy="51.9" r="0.95" fill="#A00000"/>
<circle cx="496.5" cy="51.9" r="0.95" fill="#A00000"/>
<circle cx="451.5" cy="91.7" r="0.95" fill="#17AE36"/>
<circle cx="453.8" cy="91.7" r="0.95" fill="#17AE36"/>
<circle cx="460.4" cy="94" r="0.95" fill="#17AE36"/>
<circle cx="463.5" cy="94" r="0.95" fill="#17AE36"/>
<circle cx="466.9" cy="94" r="0.95" fill="#17AE36"/>
<circle cx="482.2" cy="100.9" r="0.95" fill="#17AE36"/>
<circle cx="489.6" cy="100.9" r="0.95" fill="#17AE36"/>
<circle cx="495.9" cy="100.9" r="0.95" fill="#17AE36"/>
<path d="M47.7,199.4 V316.6 H165" fill="none" stroke="#1a1a1a" stroke-width="1.3"/>
<line x1="44.5" y1="310.8" x2="47.7" y2="310.8" stroke="#1a1a1a" stroke-width="1.2"/>
<text x="41.6" y="313.2" font-size="6.6" text-anchor="end" fill="#1a1a1a">0.0</text>
<line x1="44.5" y1="289.6" x2="47.7" y2="289.6" stroke="#1a1a1a" stroke-width="1.2"/>
<text x="41.6" y="292" font-size="6.6" text-anchor="end" fill="#1a1a1a">0.2</text>
<line x1="44.5" y1="268.4" x2="47.7" y2="268.4" stroke="#1a1a1a" stroke-width="1.2"/>
<text x="41.6" y="270.8" font-size="6.6" text-anchor="end" fill="#1a1a1a">0.4</text>
<line x1="44.5" y1="247.2" x2="47.7" y2="247.2" stroke="#1a1a1a" stroke-width="1.2"/>
<text x="41.6" y="249.6" font-size="6.6" text-anchor="end" fill="#1a1a1a">0.6</text>
<line x1="44.5" y1="226" x2="47.7" y2="226" stroke="#1a1a1a" stroke-width="1.2"/>
<text x="41.6" y="228.4" font-size="6.6" text-anchor="end" fill="#1a1a1a">0.8</text>
<line x1="44.5" y1="204.8" x2="47.7" y2="204.8" stroke="#1a1a1a" stroke-width="1.2"/>
<text x="41.6" y="207.2" font-size="6.6" text-anchor="end" fill="#1a1a1a">1.0</text>
<line x1="53.2" y1="316.6" x2="53.2" y2="319.9" stroke="#1a1a1a" stroke-width="1.2"/>
<text x="53.2" y="329.1" font-size="6.6" text-anchor="middle" fill="#1a1a1a">0</text>
<line x1="70.92" y1="316.6" x2="70.92" y2="319.9" stroke="#1a1a1a" stroke-width="1.2"/>
<text x="70.92" y="329.1" font-size="6.6" text-anchor="middle" fill="#1a1a1a">20</text>
<line x1="88.64" y1="316.6" x2="88.64" y2="319.9" stroke="#1a1a1a" stroke-width="1.2"/>
<text x="88.64" y="329.1" font-size="6.6" text-anchor="middle" fill="#1a1a1a">40</text>
<line x1="106.36" y1="316.6" x2="106.36" y2="319.9" stroke="#1a1a1a" stroke-width="1.2"/>
<text x="106.36" y="329.1" font-size="6.6" text-anchor="middle" fill="#1a1a1a">60</text>
<line x1="124.08" y1="316.6" x2="124.08" y2="319.9" stroke="#1a1a1a" stroke-width="1.2"/>
<text x="124.08" y="329.1" font-size="6.6" text-anchor="middle" fill="#1a1a1a">80</text>
<line x1="141.8" y1="316.6" x2="141.8" y2="319.9" stroke="#1a1a1a" stroke-width="1.2"/>
<text x="141.8" y="329.1" font-size="6.6" text-anchor="middle" fill="#1a1a1a">100</text>
<line x1="159.52" y1="316.6" x2="159.52" y2="319.9" stroke="#1a1a1a" stroke-width="1.2"/>
<text x="159.52" y="329.1" font-size="6.6" text-anchor="middle" fill="#1a1a1a">120</text>
<text x="7.7" y="192.6" font-size="11.6" font-weight="bold" fill="#000" stroke="#000" stroke-width="0.4">D</text>
<text x="86.6" y="341.8" font-size="8.6" fill="#222" stroke="#222" stroke-width="0.3" textLength="39.2" lengthAdjust="spacingAndGlyphs">Time (months)</text>
<text transform="translate(26.4,258.35) rotate(-90)" x="0" y="0" font-size="8.4" text-anchor="middle" fill="#222" stroke="#222" stroke-width="0.18" textLength="104.5" lengthAdjust="spacingAndGlyphs">Probability of progression free survival</text>
<text x="90.6" y="208.4" font-size="6.5" fill="#222" textLength="25" lengthAdjust="spacingAndGlyphs">p=0.008</text>
<path d="M51.1,295.6 H54.7 V293.3 H57.9 V295.1" fill="none" stroke="#B01A1E" stroke-width="1.1"/>
<text x="61.8" y="296" font-size="6.4" fill="#1a1a1a">Isolated thrombocytopenia</text>
<path d="M51.1,303.6 H54.7 V301.3 H57.9 V303.1" fill="none" stroke="#1EB23B" stroke-width="1.1"/>
<text x="61.8" y="304" font-size="6.4" fill="#1a1a1a">Bicytopenia</text>
<path d="M51.1,310.8 H54.7 V308.5 H57.9 V310.3" fill="none" stroke="#000000" stroke-width="1.1"/>
<text x="61.8" y="312" font-size="6.4" fill="#1a1a1a">Pancytopenia</text>
<path d="M53.4,204.4 L53.4,212 L54.4,213.7 L55.1,216.5 L56.5,219.4 L58,220.1 L58.7,223.6 L60.1,227.9 L61.5,232.2 L62,234 L63.5,237.7 L66.5,238.6 L68.7,238.9 L70.8,239.4 L74.5,239.4 L75.3,241.5 L77,244 L79.3,244.7 L84.3,245 L85,247.4 L93.3,247.5 L93.5,251.7 L158,251.7" fill="none" stroke="#B01A1E" stroke-width="1.1" stroke-linejoin="miter" stroke-miterlimit="2"/>
<path d="M53.4,212 L54.4,213.7 L55.1,216.5 L56.5,219.4 L58,220.1 L58.7,223.6 L60.1,227.9 L61.5,232.2 L62,234 L63.5,237.7 L66.5,238.6 L68.7,238.9 L70.8,239.4 L74.5,239.4 L75.3,241.5 L77,244 L79.3,244.7 L84.3,245 L85,247.4" fill="none" stroke="#A80E12" stroke-width="1.45" stroke-linejoin="round" stroke-linecap="round"/>
<circle cx="54.21" cy="213.38" r="0.85" fill="#A00000"/>
<circle cx="55.09" cy="216.44" r="0.85" fill="#A00000"/>
<circle cx="56.47" cy="219.33" r="0.85" fill="#A00000"/>
<circle cx="58.29" cy="221.54" r="0.85" fill="#A00000"/>
<circle cx="59.04" cy="224.64" r="0.85" fill="#A00000"/>
<circle cx="60.03" cy="227.69" r="0.85" fill="#A00000"/>
<circle cx="61.02" cy="230.73" r="0.85" fill="#A00000"/>
<circle cx="61.94" cy="233.79" r="0.85" fill="#A00000"/>
<circle cx="63.12" cy="236.77" r="0.85" fill="#A00000"/>
<circle cx="65.6" cy="238.33" r="0.85" fill="#A00000"/>
<circle cx="68.74" cy="238.91" r="0.85" fill="#A00000"/>
<circle cx="71.88" cy="239.4" r="0.85" fill="#A00000"/>
<circle cx="74.71" cy="239.94" r="0.85" fill="#A00000"/>
<circle cx="76.16" cy="242.77" r="0.85" fill="#A00000"/>
<circle cx="78.64" cy="244.5" r="0.85" fill="#A00000"/>
<circle cx="81.8" cy="244.85" r="0.85" fill="#A00000"/>
<circle cx="84.5" cy="245.67" r="0.85" fill="#A00000"/>
<path d="M53.4,204.4 L53.4,214 L54,219 L55.2,225 L56.6,231 L58,236 L59.3,240.3 L61.2,244 L63.5,247.1 L65.5,251 L67.8,254.8 L72.1,257.4 L78.9,261.6 L82,265 L84.1,269.3 L89.2,270.7 L99.4,270.2 L103.5,270.9 L107.1,272.2 L110.6,272.6 L112.4,275.3 L116.8,276.2 L117.7,278.8 L133.6,278.8" fill="none" stroke="#1EB23B" stroke-width="1.0" stroke-linejoin="miter" stroke-miterlimit="2"/>
<path d="M53.4,214 L54,219 L55.2,225 L56.6,231 L58,236 L59.3,240.3 L61.2,244 L63.5,247.1 L65.5,251 L67.8,254.8 L72.1,257.4 L78.9,261.6 L82,265 L84.1,269.3 L89.2,270.7 L99.4,270.2 L103.5,270.9 L107.1,272.2 L110.6,272.6 L112.4,275.3 L116.8,276.2 L117.7,278.8" fill="none" stroke="#19AC36" stroke-width="1.45" stroke-linejoin="round" stroke-linecap="round"/>
<circle cx="53.59" cy="215.59" r="0.85" fill="#17AE36"/>
<circle cx="53.97" cy="218.77" r="0.85" fill="#17AE36"/>
<circle cx="54.58" cy="221.91" r="0.85" fill="#17AE36"/>
<circle cx="55.21" cy="225.04" r="0.85" fill="#17AE36"/>
<circle cx="55.94" cy="228.16" r="0.85" fill="#17AE36"/>
<circle cx="56.68" cy="231.27" r="0.85" fill="#17AE36"/>
<circle cx="57.54" cy="234.36" r="0.85" fill="#17AE36"/>
<circle cx="58.43" cy="237.43" r="0.85" fill="#17AE36"/>
<circle cx="59.39" cy="240.48" r="0.85" fill="#17AE36"/>
<circle cx="60.85" cy="243.32" r="0.85" fill="#17AE36"/>
<circle cx="62.65" cy="245.96" r="0.85" fill="#17AE36"/>
<circle cx="64.31" cy="248.68" r="0.85" fill="#17AE36"/>
<circle cx="65.81" cy="251.51" r="0.85" fill="#17AE36"/>
<circle cx="67.47" cy="254.25" r="0.85" fill="#17AE36"/>
<circle cx="69.99" cy="256.12" r="0.85" fill="#17AE36"/>
<circle cx="72.72" cy="257.78" r="0.85" fill="#17AE36"/>
<circle cx="75.44" cy="259.47" r="0.85" fill="#17AE36"/>
<circle cx="78.17" cy="261.15" r="0.85" fill="#17AE36"/>
<circle cx="80.48" cy="263.33" r="0.85" fill="#17AE36"/>
<circle cx="82.41" cy="265.84" r="0.85" fill="#17AE36"/>
<circle cx="83.82" cy="268.72" r="0.85" fill="#17AE36"/>
<circle cx="86.56" cy="269.98" r="0.85" fill="#17AE36"/>
<circle cx="89.66" cy="270.68" r="0.85" fill="#17AE36"/>
<circle cx="92.86" cy="270.52" r="0.85" fill="#17AE36"/>
<circle cx="96.05" cy="270.36" r="0.85" fill="#17AE36"/>
<circle cx="99.25" cy="270.21" r="0.85" fill="#17AE36"/>
<circle cx="102.41" cy="270.71" r="0.85" fill="#17AE36"/>
<circle cx="105.47" cy="271.61" r="0.85" fill="#17AE36"/>
<circle cx="108.55" cy="272.37" r="0.85" fill="#17AE36"/>
<circle cx="111.23" cy="273.55" r="0.85" fill="#17AE36"/>
<circle cx="113.47" cy="275.52" r="0.85" fill="#17AE36"/>
<circle cx="116.61" cy="276.16" r="0.85" fill="#17AE36"/>
<path d="M53.4,204.4 L53.4,213.7 L54.4,219.4 L55.8,225.1 L57.3,230.8 L59.4,236.5 L61.5,240.7 L63.2,244.5 L66.1,251.4 L69.5,255.6 L73.8,259.1 L78.9,263.3 L84.1,267.6 L89.2,271 L96,271.4 L100,272.2 L103.5,272.6 L105.3,274 L108.8,274.8 L123.9,274.8 L123.9,277.5 L142.9,277.5" fill="none" stroke="#000000" stroke-width="1.3" stroke-linejoin="miter" stroke-miterlimit="2"/>
<path d="M53.4,213.7 L54.4,219.4 L55.8,225.1 L57.3,230.8 L59.4,236.5 L61.5,240.7 L63.2,244.5 L66.1,251.4 L69.5,255.6 L73.8,259.1 L78.9,263.3 L84.1,267.6 L89.2,271 L96,271.4 L100,272.2 L103.5,272.6 L105.3,274 L108.8,274.8" fill="none" stroke="#000000" stroke-width="1.6" stroke-linejoin="round" stroke-linecap="round"/>
<circle cx="53.68" cy="215.28" r="0.85" fill="#000"/>
<circle cx="54.23" cy="218.43" r="0.85" fill="#000"/>
<circle cx="54.93" cy="221.55" r="0.85" fill="#000"/>
<circle cx="55.69" cy="224.66" r="0.85" fill="#000"/>
<circle cx="56.5" cy="227.75" r="0.85" fill="#000"/>
<circle cx="57.32" cy="230.85" r="0.85" fill="#000"/>
<circle cx="58.42" cy="233.85" r="0.85" fill="#000"/>
<circle cx="59.57" cy="236.84" r="0.85" fill="#000"/>
<circle cx="61" cy="239.7" r="0.85" fill="#000"/>
<circle cx="62.35" cy="242.6" r="0.85" fill="#000"/>
<circle cx="63.63" cy="245.53" r="0.85" fill="#000"/>
<circle cx="64.87" cy="248.48" r="0.85" fill="#000"/>
<circle cx="66.12" cy="251.42" r="0.85" fill="#000"/>
<circle cx="68.13" cy="253.91" r="0.85" fill="#000"/>
<circle cx="70.3" cy="256.25" r="0.85" fill="#000"/>
<circle cx="72.78" cy="258.27" r="0.85" fill="#000"/>
<circle cx="75.25" cy="260.3" r="0.85" fill="#000"/>
<circle cx="77.72" cy="262.33" r="0.85" fill="#000"/>
<circle cx="80.19" cy="264.37" r="0.85" fill="#000"/>
<circle cx="82.66" cy="266.41" r="0.85" fill="#000"/>
<circle cx="85.21" cy="268.34" r="0.85" fill="#000"/>
<circle cx="87.87" cy="270.11" r="0.85" fill="#000"/>
<circle cx="90.8" cy="271.09" r="0.85" fill="#000"/>
<circle cx="93.99" cy="271.28" r="0.85" fill="#000"/>
<circle cx="97.16" cy="271.63" r="0.85" fill="#000"/>
<circle cx="100.31" cy="272.24" r="0.85" fill="#000"/>
<circle cx="103.49" cy="272.6" r="0.85" fill="#000"/>
<circle cx="106.18" cy="274.2" r="0.85" fill="#000"/>
<circle cx="93.5" cy="251.7" r="0.95" fill="#A00000"/>
<circle cx="96.9" cy="251.7" r="0.95" fill="#A00000"/>
<circle cx="103.1" cy="251.7" r="0.95" fill="#A00000"/>
<circle cx="109.2" cy="251.7" r="0.95" fill="#A00000"/>
<circle cx="110.8" cy="251.7" r="0.95" fill="#A00000"/>
<circle cx="116.2" cy="251.7" r="0.95" fill="#A00000"/>
<circle cx="117.7" cy="251.7" r="0.95" fill="#A00000"/>
<circle cx="120.4" cy="251.7" r="0.95" fill="#A00000"/>
<circle cx="121.2" cy="251.7" r="0.95" fill="#A00000"/>
<circle cx="124.2" cy="251.7" r="0.95" fill="#A00000"/>
<circle cx="125.8" cy="251.7" r="0.95" fill="#A00000"/>
<circle cx="127.7" cy="251.7" r="0.95" fill="#A00000"/>
<circle cx="157.9" cy="251.7" r="0.95" fill="#A00000"/>
<circle cx="119.5" cy="278.8" r="0.95" fill="#17AE36"/>
<circle cx="121.7" cy="278.8" r="0.95" fill="#17AE36"/>
<circle cx="125.7" cy="278.8" r="0.95" fill="#17AE36"/>
<circle cx="129.6" cy="278.8" r="0.95" fill="#17AE36"/>
<circle cx="132.7" cy="278.8" r="0.95" fill="#17AE36"/>
<circle cx="114.2" cy="274.8" r="0.95" fill="#000"/>
<circle cx="116.4" cy="274.8" r="0.95" fill="#000"/>
<circle cx="119" cy="274.8" r="0.95" fill="#000"/>
<circle cx="121.2" cy="274.8" r="0.95" fill="#000"/>
<circle cx="126.5" cy="277.5" r="0.95" fill="#000"/>
<circle cx="129.2" cy="277.5" r="0.95" fill="#000"/>
<circle cx="131.9" cy="277.5" r="0.95" fill="#000"/>
<circle cx="134.5" cy="277.5" r="0.95" fill="#000"/>
<circle cx="136.7" cy="277.5" r="0.95" fill="#000"/>
<circle cx="138.9" cy="277.5" r="0.95" fill="#000"/>
<circle cx="141.6" cy="277.5" r="0.95" fill="#000"/>
<circle cx="53.4" cy="205" r="1.1" fill="#000000"/>
<path d="M221.7,200.9 V316.7 H338.7" fill="none" stroke="#1a1a1a" stroke-width="1.3"/>
<line x1="218.5" y1="310.8" x2="221.7" y2="310.8" stroke="#1a1a1a" stroke-width="1.2"/>
<text x="215.6" y="313.2" font-size="6.6" text-anchor="end" fill="#1a1a1a">0.0</text>
<line x1="218.5" y1="289.9" x2="221.7" y2="289.9" stroke="#1a1a1a" stroke-width="1.2"/>
<text x="215.6" y="292.3" font-size="6.6" text-anchor="end" fill="#1a1a1a">0.2</text>
<line x1="218.5" y1="269" x2="221.7" y2="269" stroke="#1a1a1a" stroke-width="1.2"/>
<text x="215.6" y="271.4" font-size="6.6" text-anchor="end" fill="#1a1a1a">0.4</text>
<line x1="218.5" y1="248.1" x2="221.7" y2="248.1" stroke="#1a1a1a" stroke-width="1.2"/>
<text x="215.6" y="250.5" font-size="6.6" text-anchor="end" fill="#1a1a1a">0.6</text>
<line x1="218.5" y1="227.2" x2="221.7" y2="227.2" stroke="#1a1a1a" stroke-width="1.2"/>
<text x="215.6" y="229.6" font-size="6.6" text-anchor="end" fill="#1a1a1a">0.8</text>
<line x1="218.5" y1="206.3" x2="221.7" y2="206.3" stroke="#1a1a1a" stroke-width="1.2"/>
<text x="215.6" y="208.7" font-size="6.6" text-anchor="end" fill="#1a1a1a">1.0</text>
<line x1="227.7" y1="316.7" x2="227.7" y2="320" stroke="#1a1a1a" stroke-width="1.2"/>
<text x="227.7" y="329.2" font-size="6.6" text-anchor="middle" fill="#1a1a1a">0</text>
<line x1="245.2" y1="316.7" x2="245.2" y2="320" stroke="#1a1a1a" stroke-width="1.2"/>
<text x="245.2" y="329.2" font-size="6.6" text-anchor="middle" fill="#1a1a1a">20</text>
<line x1="262.7" y1="316.7" x2="262.7" y2="320" stroke="#1a1a1a" stroke-width="1.2"/>
<text x="262.7" y="329.2" font-size="6.6" text-anchor="middle" fill="#1a1a1a">40</text>
<line x1="280.2" y1="316.7" x2="280.2" y2="320" stroke="#1a1a1a" stroke-width="1.2"/>
<text x="280.2" y="329.2" font-size="6.6" text-anchor="middle" fill="#1a1a1a">60</text>
<line x1="297.7" y1="316.7" x2="297.7" y2="320" stroke="#1a1a1a" stroke-width="1.2"/>
<text x="297.7" y="329.2" font-size="6.6" text-anchor="middle" fill="#1a1a1a">80</text>
<line x1="315.2" y1="316.7" x2="315.2" y2="320" stroke="#1a1a1a" stroke-width="1.2"/>
<text x="315.2" y="329.2" font-size="6.6" text-anchor="middle" fill="#1a1a1a">100</text>
<line x1="332.7" y1="316.7" x2="332.7" y2="320" stroke="#1a1a1a" stroke-width="1.2"/>
<text x="332.7" y="329.2" font-size="6.6" text-anchor="middle" fill="#1a1a1a">120</text>
<text x="181.7" y="192.8" font-size="11.6" font-weight="bold" fill="#000" stroke="#000" stroke-width="0.4">E</text>
<text x="260.5" y="342" font-size="8.6" fill="#222" stroke="#222" stroke-width="0.3" textLength="39.7" lengthAdjust="spacingAndGlyphs">Time (months)</text>
<text transform="translate(200,256.9) rotate(-90)" x="0" y="0" font-size="8.4" text-anchor="middle" fill="#222" stroke="#222" stroke-width="0.18" textLength="98.8" lengthAdjust="spacingAndGlyphs">Probability of progression free survival</text>
<text x="246.5" y="209" font-size="6.5" fill="#222" textLength="25" lengthAdjust="spacingAndGlyphs">p=0.000</text>
<path d="M225.2,303.2 H228.8 V300.9 H232 V302.7" fill="none" stroke="#B01A1E" stroke-width="1.1"/>
<text x="235.8" y="303.6" font-size="6.4" fill="#1a1a1a">WT1 normal expression</text>
<path d="M225.2,311 H228.8 V308.7 H232 V310.5" fill="none" stroke="#1EB23B" stroke-width="1.1"/>
<text x="235.8" y="311.4" font-size="6.4" fill="#1a1a1a">WT1 overexpression</text>
<path d="M227.4,206 L227.6,209 L228.2,211.4 L228.6,214.3 L229.1,216 L230,218.2 L230.6,220.5 L231.4,222.8 L231.9,224.7 L233.4,228.4 L235.6,231.4 L237.9,235.1 L240.1,238.6 L242.3,240.3 L245.3,241.8 L248.2,243.3 L251.2,244.7 L254.1,246.2 L257.1,247.6 L258.6,250.5 L262,252.3 L263.5,253.2 L267.3,254 L270,253.9 L271.5,255.4 L290.8,255.5 L290.8,258.5 L304.4,258.5" fill="none" stroke="#B01A1E" stroke-width="1.1" stroke-linejoin="miter" stroke-miterlimit="2"/>
<path d="M227.6,209 L228.2,211.4 L228.6,214.3 L229.1,216 L230,218.2 L230.6,220.5 L231.4,222.8 L231.9,224.7 L233.4,228.4 L235.6,231.4 L237.9,235.1 L240.1,238.6 L242.3,240.3 L245.3,241.8 L248.2,243.3 L251.2,244.7 L254.1,246.2 L257.1,247.6 L258.6,250.5 L262,252.3 L263.5,253.2 L267.3,254 L270,253.9 L271.5,255.4" fill="none" stroke="#A80E12" stroke-width="1.45" stroke-linejoin="round" stroke-linecap="round"/>
<circle cx="227.99" cy="210.55" r="0.85" fill="#A00000"/>
<circle cx="228.52" cy="213.7" r="0.85" fill="#A00000"/>
<circle cx="229.41" cy="216.77" r="0.85" fill="#A00000"/>
<circle cx="230.42" cy="219.8" r="0.85" fill="#A00000"/>
<circle cx="231.41" cy="222.84" r="0.85" fill="#A00000"/>
<circle cx="232.38" cy="225.88" r="0.85" fill="#A00000"/>
<circle cx="233.68" cy="228.79" r="0.85" fill="#A00000"/>
<circle cx="235.58" cy="231.37" r="0.85" fill="#A00000"/>
<circle cx="237.27" cy="234.08" r="0.85" fill="#A00000"/>
<circle cx="238.97" cy="236.8" r="0.85" fill="#A00000"/>
<circle cx="240.95" cy="239.25" r="0.85" fill="#A00000"/>
<circle cx="243.63" cy="240.97" r="0.85" fill="#A00000"/>
<circle cx="246.49" cy="242.41" r="0.85" fill="#A00000"/>
<circle cx="249.35" cy="243.84" r="0.85" fill="#A00000"/>
<circle cx="252.23" cy="245.23" r="0.85" fill="#A00000"/>
<circle cx="255.09" cy="246.66" r="0.85" fill="#A00000"/>
<circle cx="257.55" cy="248.47" r="0.85" fill="#A00000"/>
<circle cx="259.41" cy="250.93" r="0.85" fill="#A00000"/>
<circle cx="262.23" cy="252.44" r="0.85" fill="#A00000"/>
<circle cx="265.19" cy="253.55" r="0.85" fill="#A00000"/>
<circle cx="268.34" cy="253.96" r="0.85" fill="#A00000"/>
<circle cx="271.09" cy="254.99" r="0.85" fill="#A00000"/>
<path d="M227.4,206 L227.4,219 L228.2,222.5 L229.3,230.5 L230.4,237.5 L232,242.7 L233.1,247.7 L234.1,250 L235.7,255.4 L238.3,262.2 L241.7,269.1 L245.1,271.6 L249.4,275 L252.8,278.5 L256.2,282.7 L259.6,285.3 L262.2,286.2 L272.4,286.3 L277.5,286.6 L279.1,288.5 L281.8,288.9 L283.3,290.1 L284.8,291.6 L297.9,291.6 L297.9,293.2 L331.5,293.2" fill="none" stroke="#1EB23B" stroke-width="1.0" stroke-linejoin="miter" stroke-miterlimit="2"/>
<path d="M227.4,219 L228.2,222.5 L229.3,230.5 L230.4,237.5 L232,242.7 L233.1,247.7 L234.1,250 L235.7,255.4 L238.3,262.2 L241.7,269.1 L245.1,271.6 L249.4,275 L252.8,278.5 L256.2,282.7 L259.6,285.3 L262.2,286.2" fill="none" stroke="#19AC36" stroke-width="1.45" stroke-linejoin="round" stroke-linecap="round"/>
<path d="M272.4,286.3 L277.5,286.6 L279.1,288.5 L281.8,288.9 L283.3,290.1 L284.8,291.6" fill="none" stroke="#19AC36" stroke-width="1.45" stroke-linejoin="round" stroke-linecap="round"/>
<path d="M297.9,291.6 L297.9,293.2" fill="none" stroke="#19AC36" stroke-width="1.45" stroke-linejoin="round" stroke-linecap="round"/>
<circle cx="227.76" cy="220.56" r="0.85" fill="#17AE36"/>
<circle cx="228.36" cy="223.7" r="0.85" fill="#17AE36"/>
<circle cx="228.8" cy="226.87" r="0.85" fill="#17AE36"/>
<circle cx="229.24" cy="230.04" r="0.85" fill="#17AE36"/>
<circle cx="229.72" cy="233.2" r="0.85" fill="#17AE36"/>
<circle cx="230.22" cy="236.36" r="0.85" fill="#17AE36"/>
<circle cx="231" cy="239.46" r="0.85" fill="#17AE36"/>
<circle cx="231.94" cy="242.52" r="0.85" fill="#17AE36"/>
<circle cx="232.65" cy="245.64" r="0.85" fill="#17AE36"/>
<circle cx="233.53" cy="248.7" r="0.85" fill="#17AE36"/>
<circle cx="234.61" cy="251.71" r="0.85" fill="#17AE36"/>
<circle cx="235.51" cy="254.78" r="0.85" fill="#17AE36"/>
<circle cx="236.61" cy="257.78" r="0.85" fill="#17AE36"/>
<circle cx="237.75" cy="260.77" r="0.85" fill="#17AE36"/>
<circle cx="239.04" cy="263.7" r="0.85" fill="#17AE36"/>
<circle cx="240.45" cy="266.57" r="0.85" fill="#17AE36"/>
<circle cx="242" cy="269.32" r="0.85" fill="#17AE36"/>
<circle cx="244.58" cy="271.22" r="0.85" fill="#17AE36"/>
<circle cx="247.1" cy="273.19" r="0.85" fill="#17AE36"/>
<circle cx="249.59" cy="275.2" r="0.85" fill="#17AE36"/>
<circle cx="251.82" cy="277.49" r="0.85" fill="#17AE36"/>
<circle cx="253.93" cy="279.89" r="0.85" fill="#17AE36"/>
<circle cx="255.94" cy="282.38" r="0.85" fill="#17AE36"/>
<circle cx="258.42" cy="284.4" r="0.85" fill="#17AE36"/>
<circle cx="261.22" cy="285.86" r="0.85" fill="#17AE36"/>
<circle cx="274" cy="286.39" r="0.85" fill="#17AE36"/>
<circle cx="277.19" cy="286.58" r="0.85" fill="#17AE36"/>
<circle cx="279.5" cy="288.56" r="0.85" fill="#17AE36"/>
<circle cx="282.49" cy="289.45" r="0.85" fill="#17AE36"/>
<circle cx="273.1" cy="255.5" r="0.95" fill="#A00000"/>
<circle cx="277.7" cy="255.5" r="0.95" fill="#A00000"/>
<circle cx="282.3" cy="255.5" r="0.95" fill="#A00000"/>
<circle cx="284.6" cy="255.5" r="0.95" fill="#A00000"/>
<circle cx="287.7" cy="255.5" r="0.95" fill="#A00000"/>
<circle cx="293.1" cy="258.5" r="0.95" fill="#A00000"/>
<circle cx="295.4" cy="258.5" r="0.95" fill="#A00000"/>
<circle cx="298.5" cy="258.5" r="0.95" fill="#A00000"/>
<circle cx="300.4" cy="258.5" r="0.95" fill="#A00000"/>
<circle cx="304.2" cy="258.5" r="0.95" fill="#A00000"/>
<circle cx="292.5" cy="291.6" r="0.95" fill="#17AE36"/>
<circle cx="300.6" cy="293.2" r="0.95" fill="#17AE36"/>
<circle cx="302.9" cy="293.2" r="0.95" fill="#17AE36"/>
<circle cx="305.6" cy="293.2" r="0.95" fill="#17AE36"/>
<circle cx="308.3" cy="293.2" r="0.95" fill="#17AE36"/>
<circle cx="312.5" cy="293.2" r="0.95" fill="#17AE36"/>
<circle cx="315.5" cy="293.2" r="0.95" fill="#17AE36"/>
<circle cx="331.5" cy="293.2" r="0.95" fill="#17AE36"/>
<circle cx="227.4" cy="206.2" r="1.3" fill="#B01A1E"/>
<path d="M395,200.2 V316.7 H511.8" fill="none" stroke="#1a1a1a" stroke-width="1.3"/>
<line x1="391.8" y1="310.8" x2="395" y2="310.8" stroke="#1a1a1a" stroke-width="1.2"/>
<text x="388.9" y="313.2" font-size="6.6" text-anchor="end" fill="#1a1a1a">0.0</text>
<line x1="391.8" y1="289.84" x2="395" y2="289.84" stroke="#1a1a1a" stroke-width="1.2"/>
<text x="388.9" y="292.24" font-size="6.6" text-anchor="end" fill="#1a1a1a">0.2</text>
<line x1="391.8" y1="268.88" x2="395" y2="268.88" stroke="#1a1a1a" stroke-width="1.2"/>
<text x="388.9" y="271.28" font-size="6.6" text-anchor="end" fill="#1a1a1a">0.4</text>
<line x1="391.8" y1="247.92" x2="395" y2="247.92" stroke="#1a1a1a" stroke-width="1.2"/>
<text x="388.9" y="250.32" font-size="6.6" text-anchor="end" fill="#1a1a1a">0.6</text>
<line x1="391.8" y1="226.96" x2="395" y2="226.96" stroke="#1a1a1a" stroke-width="1.2"/>
<text x="388.9" y="229.36" font-size="6.6" text-anchor="end" fill="#1a1a1a">0.8</text>
<line x1="391.8" y1="206" x2="395" y2="206" stroke="#1a1a1a" stroke-width="1.2"/>
<text x="388.9" y="208.4" font-size="6.6" text-anchor="end" fill="#1a1a1a">1.0</text>
<line x1="400.5" y1="316.7" x2="400.5" y2="320" stroke="#1a1a1a" stroke-width="1.2"/>
<text x="400.5" y="329.2" font-size="6.6" text-anchor="middle" fill="#1a1a1a">0</text>
<line x1="421.74" y1="316.7" x2="421.74" y2="320" stroke="#1a1a1a" stroke-width="1.2"/>
<text x="421.74" y="329.2" font-size="6.6" text-anchor="middle" fill="#1a1a1a">20</text>
<line x1="442.98" y1="316.7" x2="442.98" y2="320" stroke="#1a1a1a" stroke-width="1.2"/>
<text x="442.98" y="329.2" font-size="6.6" text-anchor="middle" fill="#1a1a1a">40</text>
<line x1="464.22" y1="316.7" x2="464.22" y2="320" stroke="#1a1a1a" stroke-width="1.2"/>
<text x="464.22" y="329.2" font-size="6.6" text-anchor="middle" fill="#1a1a1a">60</text>
<line x1="485.46" y1="316.7" x2="485.46" y2="320" stroke="#1a1a1a" stroke-width="1.2"/>
<text x="485.46" y="329.2" font-size="6.6" text-anchor="middle" fill="#1a1a1a">80</text>
<line x1="506.7" y1="316.7" x2="506.7" y2="320" stroke="#1a1a1a" stroke-width="1.2"/>
<text x="506.7" y="329.2" font-size="6.6" text-anchor="middle" fill="#1a1a1a">100</text>
<text x="354.85" y="192.8" font-size="11.6" font-weight="bold" fill="#000" stroke="#000" stroke-width="0.4">F</text>
<text x="433.7" y="342" font-size="8.6" fill="#222" stroke="#222" stroke-width="0.3" textLength="39.6" lengthAdjust="spacingAndGlyphs">Time (months)</text>
<text transform="translate(373.7,258.5) rotate(-90)" x="0" y="0" font-size="8.4" text-anchor="middle" fill="#222" stroke="#222" stroke-width="0.18" textLength="102.8" lengthAdjust="spacingAndGlyphs">Probability of progression free survival</text>
<text x="421.2" y="209" font-size="6.5" fill="#222" textLength="25" lengthAdjust="spacingAndGlyphs">p=0.000</text>
<path d="M398.2,303.2 H401.8 V300.9 H405 V302.7" fill="none" stroke="#B01A1E" stroke-width="1.1"/>
<text x="408.8" y="303.6" font-size="6.4" fill="#1a1a1a">PRAME normal expression</text>
<path d="M398.2,311 H401.8 V308.7 H405 V310.5" fill="none" stroke="#1EB23B" stroke-width="1.1"/>
<text x="408.8" y="311.4" font-size="6.4" fill="#1a1a1a">PRAME overexpression</text>
<path d="M400.4,206 L400.8,209 L401.2,211.4 L401.8,214 L402.7,215.7 L404,217.4 L404.8,219.5 L404.9,222.1 L406.1,223.4 L407,224.7 L407.4,226.4 L409.1,226.6 L410.8,228.5 L412.5,230.2 L414.7,231.1 L416.4,233.2 L418.1,233.6 L423.6,233.6 L425.8,234.5 L426.8,235.6 L496.5,235.6" fill="none" stroke="#B01A1E" stroke-width="1.1" stroke-linejoin="miter" stroke-miterlimit="2"/>
<path d="M400.4,206 L400.8,209 L401.2,211.4 L401.8,214 L402.7,215.7 L404,217.4 L404.8,219.5" fill="none" stroke="#A80E12" stroke-width="1.45" stroke-linejoin="round" stroke-linecap="round"/>
<path d="M404.9,222.1 L406.1,223.4 L407,224.7 L407.4,226.4 L409.1,226.6 L410.8,228.5 L412.5,230.2 L414.7,231.1 L416.4,233.2 L418.1,233.6 L423.6,233.6 L425.8,234.5 L426.8,235.6" fill="none" stroke="#A80E12" stroke-width="1.45" stroke-linejoin="round" stroke-linecap="round"/>
<circle cx="400.61" cy="207.59" r="0.85" fill="#A00000"/>
<circle cx="401.09" cy="210.75" r="0.85" fill="#A00000"/>
<circle cx="401.77" cy="213.88" r="0.85" fill="#A00000"/>
<circle cx="403.4" cy="216.61" r="0.85" fill="#A00000"/>
<circle cx="404.79" cy="219.46" r="0.85" fill="#A00000"/>
<circle cx="405.99" cy="223.28" r="0.85" fill="#A00000"/>
<circle cx="407.33" cy="226.11" r="0.85" fill="#A00000"/>
<circle cx="409.89" cy="227.49" r="0.85" fill="#A00000"/>
<circle cx="412.1" cy="229.8" r="0.85" fill="#A00000"/>
<circle cx="414.86" cy="231.3" r="0.85" fill="#A00000"/>
<circle cx="417.14" cy="233.37" r="0.85" fill="#A00000"/>
<circle cx="420.31" cy="233.6" r="0.85" fill="#A00000"/>
<circle cx="423.51" cy="233.6" r="0.85" fill="#A00000"/>
<circle cx="426.29" cy="235.04" r="0.85" fill="#A00000"/>
<path d="M400.4,206 L400.7,214.2 L401.4,219.9 L402.8,225.6 L403.8,231.3 L405.7,237 L407.1,241.3 L409.3,246 L411.8,252 L413.5,257.1 L416.1,261.4 L419.5,264.8 L423.8,268.2 L426.4,269.9 L428.1,272.1 L431.5,272.8 L434.9,275 L437.5,279.1 L440,280.6 L442.3,282.7 L447.7,282.7 L448.8,284.6 L477.2,284.6 L477.2,289.9 L495.9,289.9" fill="none" stroke="#1EB23B" stroke-width="1.0" stroke-linejoin="miter" stroke-miterlimit="2"/>
<path d="M400.4,206 L400.7,214.2 L401.4,219.9 L402.8,225.6 L403.8,231.3 L405.7,237 L407.1,241.3 L409.3,246 L411.8,252 L413.5,257.1 L416.1,261.4 L419.5,264.8 L423.8,268.2 L426.4,269.9 L428.1,272.1 L431.5,272.8 L434.9,275 L437.5,279.1 L440,280.6 L442.3,282.7 L447.7,282.7 L448.8,284.6" fill="none" stroke="#19AC36" stroke-width="1.45" stroke-linejoin="round" stroke-linecap="round"/>
<circle cx="400.46" cy="207.6" r="0.85" fill="#17AE36"/>
<circle cx="400.58" cy="210.8" r="0.85" fill="#17AE36"/>
<circle cx="400.69" cy="213.99" r="0.85" fill="#17AE36"/>
<circle cx="401.07" cy="217.17" r="0.85" fill="#17AE36"/>
<circle cx="401.51" cy="220.34" r="0.85" fill="#17AE36"/>
<circle cx="402.27" cy="223.45" r="0.85" fill="#17AE36"/>
<circle cx="402.97" cy="226.57" r="0.85" fill="#17AE36"/>
<circle cx="403.52" cy="229.72" r="0.85" fill="#17AE36"/>
<circle cx="404.3" cy="232.81" r="0.85" fill="#17AE36"/>
<circle cx="405.32" cy="235.85" r="0.85" fill="#17AE36"/>
<circle cx="406.32" cy="238.89" r="0.85" fill="#17AE36"/>
<circle cx="407.38" cy="241.9" r="0.85" fill="#17AE36"/>
<circle cx="408.74" cy="244.8" r="0.85" fill="#17AE36"/>
<circle cx="410.02" cy="247.73" r="0.85" fill="#17AE36"/>
<circle cx="411.25" cy="250.68" r="0.85" fill="#17AE36"/>
<circle cx="412.36" cy="253.68" r="0.85" fill="#17AE36"/>
<circle cx="413.37" cy="256.72" r="0.85" fill="#17AE36"/>
<circle cx="414.95" cy="259.5" r="0.85" fill="#17AE36"/>
<circle cx="416.79" cy="262.09" r="0.85" fill="#17AE36"/>
<circle cx="419.05" cy="264.35" r="0.85" fill="#17AE36"/>
<circle cx="421.51" cy="266.39" r="0.85" fill="#17AE36"/>
<circle cx="424.04" cy="268.36" r="0.85" fill="#17AE36"/>
<circle cx="426.63" cy="270.2" r="0.85" fill="#17AE36"/>
<circle cx="428.88" cy="272.26" r="0.85" fill="#17AE36"/>
<circle cx="431.94" cy="273.09" r="0.85" fill="#17AE36"/>
<circle cx="434.63" cy="274.82" r="0.85" fill="#17AE36"/>
<circle cx="436.44" cy="277.43" r="0.85" fill="#17AE36"/>
<circle cx="438.55" cy="279.73" r="0.85" fill="#17AE36"/>
<circle cx="441.11" cy="281.62" r="0.85" fill="#17AE36"/>
<circle cx="443.89" cy="282.7" r="0.85" fill="#17AE36"/>
<circle cx="447.09" cy="282.7" r="0.85" fill="#17AE36"/>
<circle cx="430.9" cy="235.6" r="0.95" fill="#A00000"/>
<circle cx="432.1" cy="235.6" r="0.95" fill="#A00000"/>
<circle cx="435.2" cy="235.6" r="0.95" fill="#A00000"/>
<circle cx="436.3" cy="235.6" r="0.95" fill="#A00000"/>
<circle cx="441.7" cy="235.6" r="0.95" fill="#A00000"/>
<circle cx="445.9" cy="235.6" r="0.95" fill="#A00000"/>
<circle cx="448.6" cy="235.6" r="0.95" fill="#A00000"/>
<circle cx="451.3" cy="235.6" r="0.95" fill="#A00000"/>
<circle cx="454.8" cy="235.6" r="0.95" fill="#A00000"/>
<circle cx="457.8" cy="235.6" r="0.95" fill="#A00000"/>
<circle cx="465.4" cy="235.6" r="0.95" fill="#A00000"/>
<circle cx="469.6" cy="235.6" r="0.95" fill="#A00000"/>
<circle cx="472.7" cy="235.6" r="0.95" fill="#A00000"/>
<circle cx="478.8" cy="235.6" r="0.95" fill="#A00000"/>
<circle cx="486.2" cy="235.6" r="0.95" fill="#A00000"/>
<circle cx="488.8" cy="235.6" r="0.95" fill="#A00000"/>
<circle cx="496.5" cy="235.6" r="0.95" fill="#A00000"/>
<circle cx="451.5" cy="284.6" r="0.95" fill="#17AE36"/>
<circle cx="456.2" cy="284.6" r="0.95" fill="#17AE36"/>
<circle cx="460" cy="284.6" r="0.95" fill="#17AE36"/>
<circle cx="463.1" cy="284.6" r="0.95" fill="#17AE36"/>
<circle cx="466.9" cy="284.6" r="0.95" fill="#17AE36"/>
<circle cx="481.5" cy="289.9" r="0.95" fill="#17AE36"/>
<circle cx="489.4" cy="289.9" r="0.95" fill="#17AE36"/>
<circle cx="495.4" cy="289.9" r="0.95" fill="#17AE36"/>
<circle cx="400.4" cy="205.9" r="1.3" fill="#B01A1E"/>
<rect x="0.5" y="0.5" width="519" height="350" fill="none" stroke="#000" stroke-width="1"/>
</svg></body></html>
